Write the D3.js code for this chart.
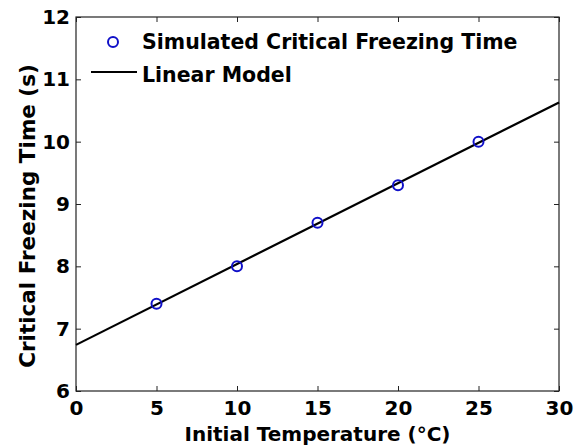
<!DOCTYPE html>
<html>
<head>
<meta charset="utf-8">
<script src="https://cdn.jsdelivr.net/npm/d3@7"></script>
<style>
  body { margin: 0; background: #fff; }
  text { font-family: "DejaVu Sans", "Liberation Sans", Arial, sans-serif; font-weight: bold; }
</style>
</head>
<body>
<div id="root"></div>
<script>
// simulated points
const temps = [5, 10, 15, 20, 25];
const freezeTimes = [7.4, 8.0, 8.7, 9.3, 10.0];

// linear model end points
const modelTemps = [0, 30];
const modelTimes = [6.74, 10.63];

const xTicks = [0, 5, 10, 15, 20, 25, 30];
const yTicks = [6, 7, 8, 9, 10, 11, 12];

const legendLabels = ["Simulated Critical Freezing Time", "Linear Model"];

const W = 574, H = 448;
const margin = { top: 17, right: 15, bottom: 57, left: 76 };
const width = W - margin.left - margin.right;
const height = H - margin.top - margin.bottom;

const x = d3.scaleLinear().domain([0, 30]).range([0, width]);
const y = d3.scaleLinear().domain([6, 12]).range([height, 0]);

const svg = d3
  .select("#root")
  .append("svg")
  .attr("width", W)
  .attr("height", H);

const g = svg.append("g").attr("transform", `translate(${margin.left}, ${margin.top})`);

// box
g.append("rect")
  .attr("width", width)
  .attr("height", height)
  .attr("fill", "none")
  .attr("stroke", "#222")
  .attr("stroke-width", 1.2);

// axes, ticks pointing inward
const xAxis = d3.axisBottom(x).tickValues(xTicks).tickFormat(d3.format("d"))
  .tickSizeInner(-5).tickSizeOuter(0).tickPadding(10);
const yAxis = d3.axisLeft(y).tickValues(yTicks).tickFormat(d3.format("d"))
  .tickSizeInner(-5).tickSizeOuter(0).tickPadding(6);

g.append("g")
  .attr("class", "x-axis")
  .attr("transform", `translate(0, ${height})`)
  .call(xAxis);

g.append("g").attr("class", "y-axis").call(yAxis);

// top and right ticks
g.append("g")
  .call(d3.axisTop(x).tickValues(xTicks).tickSizeInner(-5).tickSizeOuter(0).tickFormat(""));
g.append("g")
  .attr("transform", `translate(${width}, 0)`)
  .call(d3.axisRight(y).tickValues(yTicks).tickSizeInner(-5).tickSizeOuter(0).tickFormat(""));

g.selectAll(".domain").attr("stroke", "none");
g.selectAll(".tick line").attr("stroke", "#222");
g.selectAll(".tick text")
  .attr("font-size", "20px")
  .attr("fill", "#000");

// model line
const line = d3.line().x((d) => x(d[0])).y((d) => y(d[1]));
g.append("path")
  .datum(modelTemps.map((t, i) => [t, modelTimes[i]]))
  .attr("d", line)
  .attr("fill", "none")
  .attr("stroke", "#000")
  .attr("stroke-width", 2.2);

// points
g.append("g")
  .selectAll("circle")
  .data(temps.map((t, i) => [t, freezeTimes[i]]))
  .enter()
  .append("circle")
  .attr("cx", (d) => x(d[0]))
  .attr("cy", (d) => y(d[1]))
  .attr("r", 5)
  .attr("fill", "none")
  .attr("stroke", "#1010c8")
  .attr("stroke-width", 2);

// legend
const leg = svg.append("g");
leg.append("circle")
  .attr("cx", 113).attr("cy", 42).attr("r", 5)
  .attr("fill", "none").attr("stroke", "#1010c8").attr("stroke-width", 2);
leg.append("line")
  .attr("x1", 91).attr("x2", 137).attr("y1", 72).attr("y2", 72)
  .attr("stroke", "#000").attr("stroke-width", 2.2);
leg.selectAll("text")
  .data(legendLabels)
  .enter()
  .append("text")
  .attr("x", 142)
  .attr("y", (d, i) => 49 + i * 33)
  .attr("font-size", "20.5px")
  .attr("fill", "#000")
  .text((d) => d);

// axis titles
svg.append("text")
  .attr("x", margin.left + width / 2)
  .attr("y", 441)
  .attr("text-anchor", "middle")
  .attr("font-size", "20px")
  .text("Initial Temperature (°C)");

svg.append("text")
  .attr("transform", `translate(35, ${margin.top + height / 2 + 12}) rotate(-90)`)
  .attr("text-anchor", "middle")
  .attr("font-size", "21.5px")
  .text("Critical Freezing Time (s)");
</script>
</body>
</html>
